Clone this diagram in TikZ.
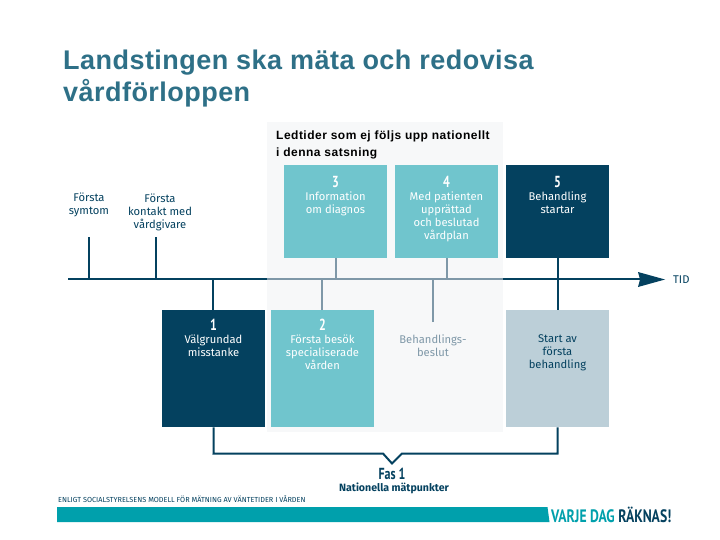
\documentclass[tikz,border=0pt]{standalone}
\usepackage{fontspec}
\setmainfont{Fira Sans}
\newfontfamily\arialf{Liberation Sans}
\newfontfamily\narrowf{PT Sans}
\definecolor{navy}{HTML}{04415F}
\definecolor{midgray}{HTML}{7F98A8}
\definecolor{lteal}{HTML}{70C5CD}
\definecolor{pale}{HTML}{BCCFD8}
\definecolor{panelc}{HTML}{F7F8F9}
\definecolor{barteal}{HTML}{00A0AC}
\definecolor{titlec}{HTML}{2E7087}
\tikzset{
 boxn/.style={draw=none,inner sep=0pt,minimum width=103pt},
 lbl/.style={inner sep=0pt,align=center,font=\fontsize{11.2}{13}\selectfont,text=#1},
 lbl/.default=navy,
 num/.style={inner sep=0pt,font=\narrowf\bfseries\fontsize{16}{16}\selectfont,text=#1,xscale=.75},
 navyline/.style={draw=navy,line width=2pt},
 grayline/.style={draw=midgray,line width=2pt},
}
\begin{document}
\begin{tikzpicture}[x=1pt,y=-1pt]
\useasboundingbox (0,0) rectangle (720,540);
\fill[white] (0,0) rectangle (720,540);
\node[fill=panelc,inner sep=0pt,minimum width=236pt,minimum height=310pt,anchor=north west] (panel) at (267,122) {};
% title
\node[anchor=west,inner sep=0pt,text=titlec,font=\arialf\fontsize{27}{30}\selectfont] (t1) at (63,63) {\addfontfeature{LetterSpace=1.7}\textbf{Landstingen ska mäta och redovisa}};
\node[anchor=west,inner sep=0pt,text=titlec,font=\arialf\fontsize{27}{30}\selectfont] (t2) at (63,93) {\addfontfeature{LetterSpace=1.7}\textbf{vårdförloppen}};
\node[anchor=west,inner sep=0pt,text=black,font=\arialf\bfseries\fontsize{12}{14}\selectfont] (lt1) at (276,136) {\addfontfeature{LetterSpace=4.1}Ledtider som ej följs upp nationellt};
\node[anchor=west,inner sep=0pt,text=black,font=\arialf\bfseries\fontsize{12}{14}\selectfont] (lt2) at (276,153) {\addfontfeature{LetterSpace=4.1}i denna satsning};
% boxes
\node[boxn,fill=lteal,minimum height=93pt,anchor=north west] (b3) at (284,165) {};
\node[boxn,fill=lteal,minimum height=93pt,anchor=north west] (b4) at (395,165) {};
\node[boxn,fill=navy,minimum height=93pt,anchor=north west] (b5) at (506,165) {};
\node[boxn,fill=navy,minimum height=117pt,anchor=north west] (b1) at (162,310) {};
\node[boxn,fill=lteal,minimum height=117pt,anchor=north west] (b2) at (271,310) {};
\node[boxn,fill=pale,minimum height=117pt,anchor=north west] (b6) at (506,310) {};
% timeline
\coordinate (tlstart) at (68,279);
\coordinate (tlg1) at (267,279);
\coordinate (tlg2) at (503,279);
\coordinate (tlend) at (645,279);
\coordinate (sy) at (89,237);
\coordinate (syb) at (89,279);
\coordinate (ko) at (156,237);
\coordinate (kob) at (156,279);
\coordinate (bes) at (433,322);
\draw[navyline] (tlstart) -- (tlg1);
\draw[grayline] (tlg1) -- (tlg2);
\draw[navyline] (tlg2) -- (tlend);
\fill[navy] (638,272) -- (665,279.5) -- (638,287) -- (640,279.5) -- cycle;
\draw[navyline] (sy) -- (syb);
\draw[navyline] (ko) -- (kob);
\draw[navyline] (b1.north -| 213,310) -- (213,279);
\draw[grayline] (b2.north -| 322,310) -- (322,279);
\draw[grayline] (b3.south) -- (b3.south |- tlstart);
\draw[grayline] (b4.south) -- (b4.south |- tlstart);
\draw[grayline] (bes) -- (bes |- tlstart);
\draw[navyline] (b5.south) -- (b6.north);
% bracket
\draw[navyline,line join=miter] (b1.south) -- (213.5,453.5) -- (383,453.5) -- (392,463.5) -- (402,453.5) -- (557.5,453.5) -- (b6.south);
% labels
\node[lbl] (l1) at (89,205) {Första\\symtom};
\node[lbl] (l2) at (160,212) {Första\\kontakt med\\vårdgivare};
\node[num=white] (n3) at (335.5,182) {3};
\node[lbl=white,anchor=north] (l3) at (335.5,191.5) {Information\\om diagnos};
\node[num=white] (n4) at (446.5,182) {4};
\node[lbl=white,anchor=north] (l4) at (446.5,191.5) {Med patienten\\upprättad\\och beslutad\\vårdplan};
\node[num=white] (n5) at (557.5,182) {5};
\node[lbl=white,anchor=north] (l5) at (557.5,191.5) {Behandling\\startar};
\node[num=white] (n1) at (213.5,325) {1};
\node[lbl=white,anchor=north] (l6) at (213.5,334.5) {Välgrundad\\misstanke};
\node[num=white] (n2) at (322.5,325) {2};
\node[lbl=white,anchor=north] (l7) at (322.5,334.5) {Första besök\\specialiserade\\vården};
\node[lbl=midgray,anchor=north] (l8) at (433,334.5) {Behandlings-\\beslut};
\node[lbl,anchor=north] (l9) at (557.5,334.5) {Start av\\första\\behandling};
\node[lbl,anchor=west] (tid) at (673,280) {TID};
\node[num=navy] (f1) at (392,473.5) {Fas 1};
\node[lbl,anchor=center,font=\fontsize{10.6}{13}\selectfont\bfseries] (f2) at (394,488.5) {Nationella mätpunkter};
\node[anchor=west,inner sep=0pt,text=navy,font=\fontsize{7.3}{8}\selectfont] (fn) at (58,499.5) {ENLIGT SOCIALSTYRELSENS MODELL FÖR MÄTNING AV VÄNTETIDER I VÅRDEN};
% bar
\fill[barteal] (57,507) -- (547.5,507) -- (549.5,522) -- (57,522) -- cycle;
\node[anchor=west,inner sep=0pt,xscale=.76,font=\narrowf\bfseries\fontsize{18}{18}\selectfont] (vd) at (551,514.5) {\textcolor{barteal}{VARJE DAG} \textcolor{navy}{RÄKNAS!}};
\end{tikzpicture}
\end{document}
